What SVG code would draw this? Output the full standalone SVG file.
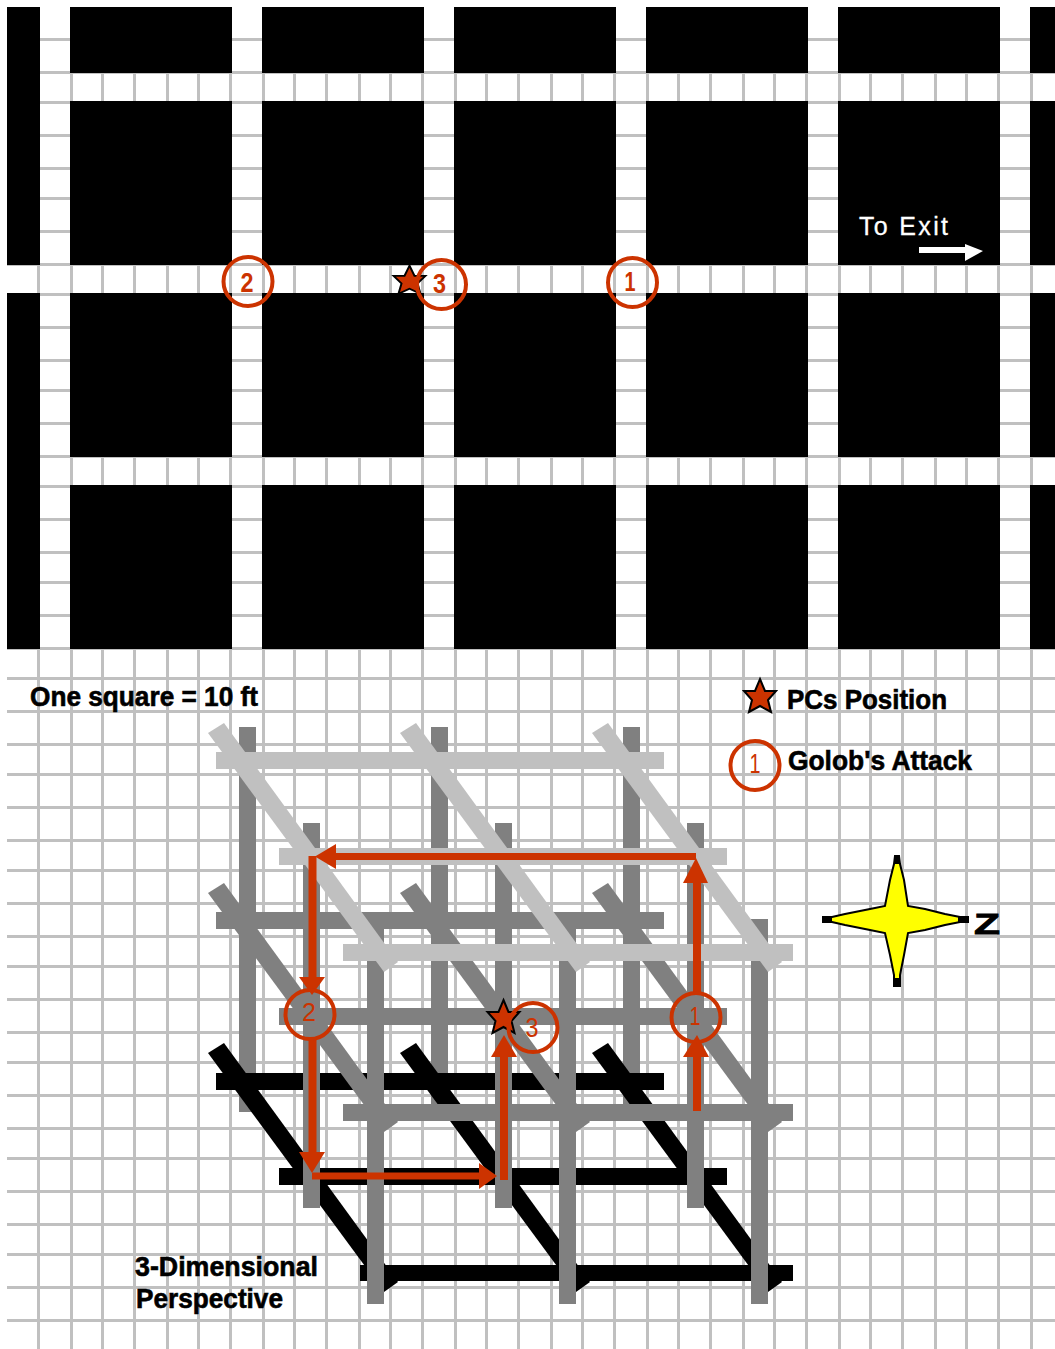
<svg xmlns="http://www.w3.org/2000/svg" width="1055" height="1349" viewBox="0 0 1055 1349">
<style>
.grid{fill:none;stroke:#c0c0c0;stroke-width:3;shape-rendering:crispEdges}
.blk{fill:#000;shape-rendering:crispEdges}
.lt{fill:#c0c0c0}.gr{fill:#808080}.bk{fill:#000}
.bar{shape-rendering:crispEdges}
.ring{fill:none;stroke:#cc3300;stroke-width:4}
.red{fill:none;stroke:#cc3300;stroke-width:8}
.red7{fill:none;stroke:#cc3300;stroke-width:7}
.head{fill:#cc3300}
.num{font-family:"Liberation Sans",Arial,sans-serif;fill:#cc3300;text-anchor:middle}
.lab{font-family:"Liberation Sans",Arial,sans-serif;font-weight:bold;font-size:27px;fill:#000;stroke:#000;stroke-width:.6px}
</style>
<defs>
<polygon id="diag" points="208,733 224,723 398,962 384,972"/>
<polygon id="star" points="0,-18 5,-6 16,-6 8,3 11,15 0,9 -11,15 -8,3 -16,-6 -5,-6" fill="#cc3300" stroke="#000" stroke-width="2"/>
<rect id="vbar" x="0" y="0" width="17" height="385" class="bar"/>
<rect id="hbar" x="0" y="0" width="448" height="17" class="bar"/>
</defs>
<rect width="1055" height="1349" fill="#fff"/>
<g id="grid">
<path class="grid" d="M7 39.5H1055M7 72.5H1055M7 102.5H1055M7 135.5H1055M7 168.5H1055M7 198.5H1055M7 231.5H1055M7 264.5H1055M7 294.5H1055M7 327.5H1055M7 360.5H1055M7 390.5H1055M7 423.5H1055M7 456.5H1055M7 486.5H1055M7 519.5H1055M7 552.5H1055M7 582.5H1055M7 615.5H1055M7 648.5H1055M7 678.5H1055M7 711.5H1055M7 744.5H1055M7 774.5H1055M7 807.5H1055M7 840.5H1055M7 870.5H1055M7 903.5H1055M7 936.5H1055M7 966.5H1055M7 999.5H1055M7 1032.5H1055M7 1062.5H1055M7 1095.5H1055M7 1128.5H1055M7 1158.5H1055M7 1191.5H1055M7 1224.5H1055M7 1254.5H1055M7 1287.5H1055M7 1320.5H1055"/>
<path class="grid" d="M38.5 7V1349M71.5 7V1349M102.5 7V1349M134.5 7V1349M167.5 7V1349M198.5 7V1349M230.5 7V1349M263.5 7V1349M294.5 7V1349M326.5 7V1349M359.5 7V1349M390.5 7V1349M422.5 7V1349M455.5 7V1349M486.5 7V1349M518.5 7V1349M551.5 7V1349M582.5 7V1349M614.5 7V1349M647.5 7V1349M678.5 7V1349M710.5 7V1349M743.5 7V1349M774.5 7V1349M806.5 7V1349M839.5 7V1349M870.5 7V1349M902.5 7V1349M935.5 7V1349M966.5 7V1349M998.5 7V1349M1031.5 7V1349"/>
</g>
<g id="map-walls" class="blk">
<rect x="7" y="7" width="33" height="258"/><rect x="7" y="293" width="33" height="356"/>
<rect x="70" y="7" width="162" height="66"/><rect x="262" y="7" width="162" height="66"/><rect x="454" y="7" width="162" height="66"/><rect x="646" y="7" width="162" height="66"/><rect x="838" y="7" width="162" height="66"/><rect x="1030" y="7" width="25" height="66"/>
<rect x="70" y="101" width="162" height="164"/><rect x="262" y="101" width="162" height="164"/><rect x="454" y="101" width="162" height="164"/><rect x="646" y="101" width="162" height="164"/><rect x="838" y="101" width="162" height="164"/><rect x="1030" y="101" width="25" height="164"/>
<rect x="70" y="293" width="162" height="164"/><rect x="262" y="293" width="162" height="164"/><rect x="454" y="293" width="162" height="164"/><rect x="646" y="293" width="162" height="164"/><rect x="838" y="293" width="162" height="164"/><rect x="1030" y="293" width="25" height="164"/>
<rect x="70" y="485" width="162" height="164"/><rect x="262" y="485" width="162" height="164"/><rect x="454" y="485" width="162" height="164"/><rect x="646" y="485" width="162" height="164"/><rect x="838" y="485" width="162" height="164"/><rect x="1030" y="485" width="25" height="164"/>
</g>
<g id="to-exit">
<text x="859" y="235" font-family="Liberation Sans,Arial,sans-serif" font-size="25" fill="#fff" stroke="#fff" stroke-width=".3" textLength="89" lengthAdjust="spacing">To Exit</text>
<rect x="919" y="247" width="47" height="6" fill="#fff"/>
<polygon points="965,244 983,251 965,261" fill="#fff"/>
</g>
<g id="map-markers">
<use href="#star" transform="translate(409.5 281) scale(1 .85)"/>
<circle class="ring" cx="248" cy="281.500" r="24.500"/>
<text class="num" x="247" y="292" font-size="28" font-weight="bold" textLength="13" lengthAdjust="spacingAndGlyphs">2</text>
<circle class="ring" cx="441.500" cy="284.500" r="24.500"/>
<text class="num" x="439.500" y="293" font-size="28" font-weight="bold" textLength="13" lengthAdjust="spacingAndGlyphs">3</text>
<circle class="ring" cx="632.500" cy="282.500" r="24.500"/>
<text class="num" x="630" y="291" font-size="28" font-weight="bold" textLength="11" lengthAdjust="spacingAndGlyphs">1</text>
</g>
<g id="legend">
<text class="lab" x="30" y="706" textLength="228" lengthAdjust="spacingAndGlyphs">One square = 10 ft</text>
<use href="#star" x="760" y="697"/>
<text class="lab" x="787" y="709" textLength="160" lengthAdjust="spacingAndGlyphs">PCs Position</text>
<circle class="ring" cx="755" cy="765.500" r="24.500"/>
<text class="num" x="755" y="773" font-size="27" textLength="11" lengthAdjust="spacingAndGlyphs">1</text>
<text class="lab" x="788" y="770" textLength="184" lengthAdjust="spacingAndGlyphs">Golob's Attack</text>
<text class="lab" x="135" y="1276" textLength="183" lengthAdjust="spacingAndGlyphs">3-Dimensional</text>
<text class="lab" x="136" y="1308" textLength="147" lengthAdjust="spacingAndGlyphs">Perspective</text>
</g>
<g id="compass">
<polygon points="895,856 899,856 900,864 904,880 908,906 925,909 945,914 960,917 968,917 968,922 960,922 945,925 925,930 908,933 904,955 900,975 900,986 894,986 894,975 890,955 885,933 870,930 845,925 832,922 823,922 823,917 832,917 845,914 870,909 885,906 890,880 894,864" fill="#ff0" stroke="#000" stroke-width="2"/>
<rect x="894.500" y="856" width="5" height="8" fill="#000"/><rect x="894.500" y="978" width="5" height="8" fill="#000"/>
<rect x="823" y="917" width="9" height="5" fill="#000"/><rect x="958" y="917" width="10" height="5" fill="#000"/>
<text x="974" y="934" font-family="Liberation Sans,Arial,sans-serif" font-weight="bold" font-size="30" fill="#000" stroke="#000" stroke-width=".8" textLength="26" lengthAdjust="spacingAndGlyphs">Z</text>
</g>
<g id="lattice">
<g id="back-posts" class="gr">
<use href="#vbar" x="239" y="727"/><use href="#vbar" x="431" y="727"/><use href="#vbar" x="623" y="727"/>
</g>
<g id="bottom-layer" class="bk">
<use href="#diag" y="320"/><use href="#diag" x="192" y="320"/><use href="#diag" x="384" y="320"/>
<use href="#hbar" x="216" y="1073"/><use href="#hbar" x="279" y="1168"/>
<rect class="bar" x="360" y="1265" width="433" height="16"/>
</g>
<g id="posts" class="gr">
<use href="#vbar" x="303" y="823"/><use href="#vbar" x="495" y="823"/><use href="#vbar" x="687" y="823"/>
<use href="#vbar" x="367" y="919"/><use href="#vbar" x="559" y="919"/><use href="#vbar" x="751" y="919"/>
</g>
<g id="middle-layer" class="gr">
<use href="#diag" y="160"/><use href="#diag" x="192" y="160"/><use href="#diag" x="384" y="160"/>
<use href="#hbar" x="216" y="912"/><use href="#hbar" x="279" y="1008"/>
<rect class="bar" x="343" y="1104" width="450" height="17"/>
</g>
<g id="top-layer" class="lt">
<use href="#diag"/><use href="#diag" x="192"/><use href="#diag" x="384"/>
<use href="#hbar" x="216" y="752"/><use href="#hbar" x="279" y="848"/>
<rect class="bar" x="343" y="944" width="450" height="17"/>
</g>
</g>
<g id="connectors">
<path class="red" d="M697 1111V1057"/><polygon class="head" points="697,1035 709,1057 683,1057"/>
<path class="red" d="M697 993V882"/><polygon class="head" points="696,858 708,883 683,883"/>
<path class="red7" d="M696 856.500H336"/><polygon class="head" points="315,856.500 336,844 336,869"/>
<path class="red" d="M312.500 856V977"/><polygon class="head" points="312,995 299,977 325,977"/>
<path class="red" d="M312.500 1039V1152"/><polygon class="head" points="312,1173 299,1152 325,1152"/>
<path class="red7" d="M312 1176H479"/><polygon class="head" points="497,1176 479,1163 479,1189"/>
<path class="red" d="M504 1180V1057"/><polygon class="head" points="504,1035 517,1057 491,1057"/>
</g>
<g id="lattice-markers">
<circle class="ring" cx="696" cy="1017.500" r="24.500"/>
<text class="num" x="695" y="1025" font-size="26" textLength="11" lengthAdjust="spacingAndGlyphs">1</text>
<circle class="ring" cx="310" cy="1014.500" r="24.500"/>
<text class="num" x="309" y="1021" font-size="26" textLength="14" lengthAdjust="spacingAndGlyphs">2</text>
<use href="#star" x="503.500" y="1018"/>
<circle class="ring" cx="533" cy="1027.500" r="24.500"/>
<text class="num" x="532" y="1037" font-size="28" textLength="13" lengthAdjust="spacingAndGlyphs">3</text>
</g>
</svg>
